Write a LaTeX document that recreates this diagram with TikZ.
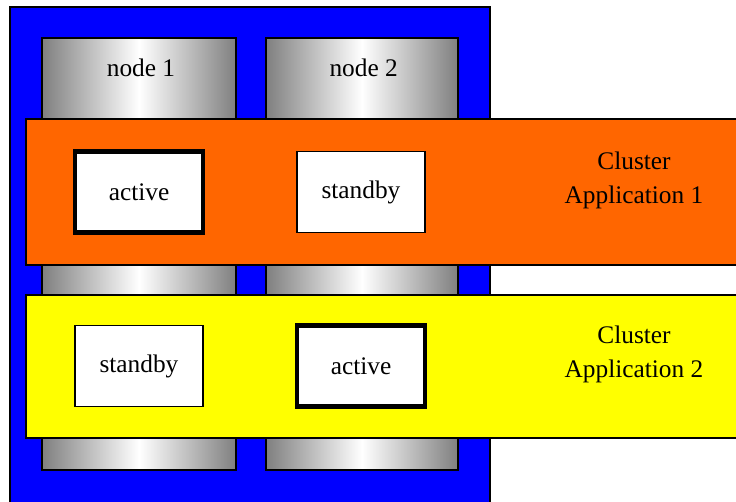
\documentclass[tikz,border=0pt]{standalone}
\usepackage{fontspec}
\setmainfont{Liberation Serif}
\usetikzlibrary{positioning}
\definecolor{clblue}{RGB}{0,0,255}
\definecolor{clorange}{RGB}{255,102,0}
\definecolor{clyellow}{RGB}{255,255,0}
\tikzset{host/.style = {draw, line width=1.2pt, left color=gray, right color=gray, middle color=white}}
\tikzset{band/.style = {draw, line width=1.2pt}}
\tikzset{hostname/.style = {font=\fontsize{19}{22}\selectfont}}
\tikzset{role/.style = {draw, fill=white, minimum width=96pt, minimum height=61pt, font=\fontsize{19}{22}\selectfont}}
\tikzset{activebox/.style = {role, line width=3.5pt}}
\tikzset{standbybox/.style = {role, line width=1.1pt}}
\tikzset{apptext/.style = {align=center, font=\fontsize{19}{25.5}\selectfont}}

\begin{document}
\begin{tikzpicture}[x=0.75pt, y=-0.75pt, on grid]
  \useasboundingbox (0,0) rectangle (736,501);
  % machines
  \draw[band, fill=clblue] (10,7) rectangle (490,510);
  \draw[host] (42,38) rectangle (236,470);
  \draw[host] (266,38) rectangle (458,470);
  \node[hostname] (n1) at (141,68) {node 1};
  \node[hostname, right=167pt of n1] (n2) {node 2};
  % cluster bands
  \draw[band, fill=clorange] (26,119) rectangle (745,265);
  \draw[band, fill=clyellow] (26,295) rectangle (745,438);
  \node[activebox] (act1) at (139,192) {active};
  \node[standbybox, right=166.5pt of act1] (sb1) {standby};
  \node[standbybox, below=130.5pt of act1] (sb2) {standby};
  \node[activebox, below=130.5pt of sb1] (act2) {active};
  \node[apptext] (app1) at (634,180) {Cluster\\Application 1};
  \node[apptext, below=130.5pt of app1] (app2) {Cluster\\Application 2};
\end{tikzpicture}
\end{document}
